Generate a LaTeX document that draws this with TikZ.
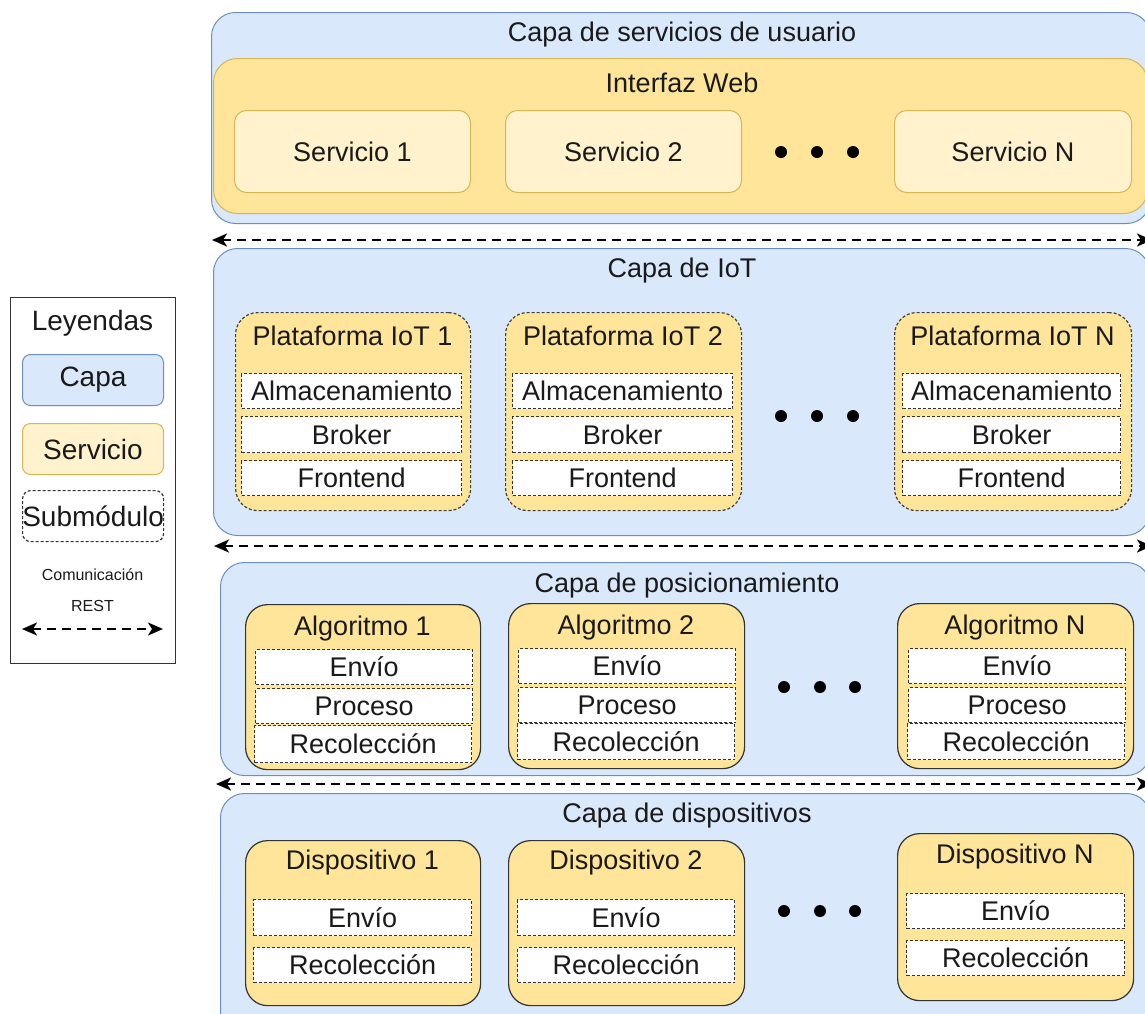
\documentclass[tikz,border=0pt]{standalone}
\usepackage{fontspec}
\setmainfont{Liberation Sans}
\usetikzlibrary{arrows.meta}
\definecolor{layerfill}{HTML}{DAE8FC}
\definecolor{layerline}{HTML}{6C8EBF}
\definecolor{svcfill}{HTML}{FFE599}
\definecolor{svclight}{HTML}{FFF2CC}
\definecolor{svcline}{HTML}{D6B656}
\definecolor{txt}{HTML}{1A1A1A}
\tikzset{
  layer/.style={draw=layerline, fill=layerfill, line width=1pt, rounded corners=24pt, anchor=north west, inner sep=0pt},
  webbox/.style={draw=svcline, fill=svcfill, line width=1pt, rounded corners=24pt, anchor=north west, inner sep=0pt},
  svcbox/.style={draw=svcline, fill=svclight, line width=1pt, rounded corners=12pt, anchor=north west, inner sep=0pt},
  platbox/.style={draw=black!75, fill=svcfill, line width=1.2pt, dash pattern=on 3pt off 2pt, rounded corners=22pt, anchor=north west, inner sep=0pt},
  algbox/.style={draw=black!80, fill=svcfill, line width=1.2pt, rounded corners=22pt, anchor=north west, inner sep=0pt},
  subbox/.style={draw=black!80, fill=white, line width=1.2pt, dash pattern=on 3pt off 2pt, anchor=north west, inner sep=0pt},
  lbl/.style={text=txt, font=\fontsize{27}{32}\selectfont, inner sep=0pt},
  small/.style={text=txt, font=\fontsize{16}{19}\selectfont, inner sep=0pt},
  rest/.style={line width=2.5pt, dash pattern=on 9pt off 6pt, {Stealth[length=15pt,width=13pt,inset=4pt]}-{Stealth[length=15pt,width=13pt,inset=4pt]}},
  dot/.style={circle, fill=black, minimum size=12pt, inner sep=0pt},
}
\begin{document}
\begin{tikzpicture}[x=1pt, y=-1pt]
\useasboundingbox (0,0) rectangle (1145,1013);
\clip (0,0) rectangle (1145,1013);

% ---------- Legend ----------
\node[draw=black!80, line width=1pt, anchor=north west, minimum width=165pt, minimum height=366pt, inner sep=0pt] (legend) at (10,297) {};
\node[lbl, font=\fontsize{28}{32}\selectfont] (legtitle) at (92.5,323) {Leyendas};
\node[layer, rounded corners=8pt, minimum width=141pt, minimum height=51pt] (legcapa) at (22,354) {};
\node[lbl, font=\fontsize{28}{32}\selectfont] at (legcapa.center) {Capa};
\node[svcbox, rounded corners=8pt, minimum width=141pt, minimum height=51pt] (legsvc) at (22,423) {};
\node[lbl, font=\fontsize{28}{32}\selectfont] at (legsvc.center) {Servicio};
\node[subbox, rounded corners=8pt, minimum width=141pt, minimum height=51pt] (legsub) at (22,490) {};
\node[lbl, font=\fontsize{28}{32}\selectfont] at (legsub.center) {Submódulo};
\node[small] (legcom) at (92.5,575) {Comunicación};
\node[small] (legrest) at (92.5,606) {REST};
\coordinate (legA) at (22,629);
\coordinate (legB) at (163,629);
\draw[rest, line width=2.3pt] (legA) -- (legB);

% ---------- Capa de servicios de usuario ----------
\node[layer, minimum width=939pt, minimum height=211pt] (L1) at (211,12) {};
\node[lbl] at (682,35) {Capa de servicios de usuario};
\node[webbox, minimum width=934pt, minimum height=155pt] (web) at (213,58) {};
\node[lbl] at (682,83) {Interfaz Web};
\node[svcbox, minimum width=236pt, minimum height=82pt] (s1) at (234,110) {};
\node[lbl] at (s1.center) {Servicio 1};
\node[svcbox, minimum width=236pt, minimum height=82pt] (s2) at (505,110) {};
\node[lbl] at (s2.center) {Servicio 2};
\node[svcbox, minimum width=237pt, minimum height=82pt] (sN) at (894,110) {};
\node[lbl] at (sN.center) {Servicio N};
\node[dot] (d1a) at (781,152) {};
\node[dot] (d1b) at (817,152) {};
\node[dot] (d1c) at (853,152) {};

% REST link between services and IoT
\coordinate (r1a) at (212,240);
\coordinate (r1b) at (1152,240);
\draw[rest] (r1a) -- (r1b);

% ---------- Capa de IoT ----------
\node[layer, minimum width=936pt, minimum height=287pt] (L2) at (213,248) {};
\node[lbl] at (682,271) {Capa de IoT};
% platform 1
\node[platbox, minimum width=235pt, minimum height=198pt] (p1) at (235,312) {};
\node[lbl] at (352.5,336) {Plataforma IoT 1};
\node[subbox, minimum width=220pt, minimum height=35pt] (p1a) at (241,373) {};
\node[lbl] at (p1a.center) {Almacenamiento};
\node[subbox, minimum width=220pt, minimum height=36pt] (p1b) at (241,416) {};
\node[lbl] at (p1b.center) {Broker};
\node[subbox, minimum width=220pt, minimum height=35pt] (p1c) at (241,460) {};
\node[lbl] at (p1c.center) {Frontend};
% platform 2
\node[platbox, minimum width=236pt, minimum height=198pt] (p2) at (505,312) {};
\node[lbl] at (623,336) {Plataforma IoT 2};
\node[subbox, minimum width=220pt, minimum height=35pt] (p2a) at (512,373) {};
\node[lbl] at (p2a.center) {Almacenamiento};
\node[subbox, minimum width=220pt, minimum height=36pt] (p2b) at (512,416) {};
\node[lbl] at (p2b.center) {Broker};
\node[subbox, minimum width=220pt, minimum height=35pt] (p2c) at (512,460) {};
\node[lbl] at (p2c.center) {Frontend};
% platform N
\node[platbox, minimum width=237pt, minimum height=198pt] (pN) at (894,312) {};
\node[lbl] at (1012.5,336) {Plataforma IoT N};
\node[subbox, minimum width=218pt, minimum height=35pt] (pNa) at (902,373) {};
\node[lbl] at (pNa.center) {Almacenamiento};
\node[subbox, minimum width=218pt, minimum height=36pt] (pNb) at (902,416) {};
\node[lbl] at (pNb.center) {Broker};
\node[subbox, minimum width=218pt, minimum height=35pt] (pNc) at (902,460) {};
\node[lbl] at (pNc.center) {Frontend};
\node[dot] (d2a) at (781,416) {};
\node[dot] (d2b) at (817,416) {};
\node[dot] (d2c) at (853,416) {};

% REST link between IoT and positioning
\coordinate (r2a) at (214,546);
\coordinate (r2b) at (1152,546);
\draw[rest] (r2a) -- (r2b);

% ---------- Capa de posicionamiento ----------
\node[layer, minimum width=930pt, minimum height=213pt] (L3) at (220,562) {};
\node[lbl] at (687,586) {Capa de posicionamiento};
% algorithm 1
\node[algbox, minimum width=235pt, minimum height=165pt] (a1) at (245,604) {};
\node[lbl] at (362.5,629) {Algoritmo 1};
\node[subbox, minimum width=217pt, minimum height=35pt] (a1a) at (255,649) {};
\node[lbl] at (a1a.center) {Envío};
\node[subbox, minimum width=217pt, minimum height=35pt] (a1b) at (255,688) {};
\node[lbl] at (a1b.center) {Proceso};
\node[subbox, minimum width=217pt, minimum height=37pt] (a1c) at (254,725) {};
\node[lbl] at (a1c.center) {Recolección};
% algorithm 2
\node[algbox, minimum width=236pt, minimum height=165pt] (a2) at (508,603) {};
\node[lbl] at (626,628) {Algoritmo 2};
\node[subbox, minimum width=217pt, minimum height=35pt] (a2a) at (518,648) {};
\node[lbl] at (a2a.center) {Envío};
\node[subbox, minimum width=217pt, minimum height=35pt] (a2b) at (518,687) {};
\node[lbl] at (a2b.center) {Proceso};
\node[subbox, minimum width=217pt, minimum height=36pt] (a2c) at (517,723) {};
\node[lbl] at (a2c.center) {Recolección};
% algorithm N
\node[algbox, minimum width=236pt, minimum height=165pt] (aN) at (897,603) {};
\node[lbl] at (1015,628) {Algoritmo N};
\node[subbox, minimum width=217pt, minimum height=35pt] (aNa) at (908,648) {};
\node[lbl] at (aNa.center) {Envío};
\node[subbox, minimum width=217pt, minimum height=35pt] (aNb) at (908,687) {};
\node[lbl] at (aNb.center) {Proceso};
\node[subbox, minimum width=217pt, minimum height=36pt] (aNc) at (907,723) {};
\node[lbl] at (aNc.center) {Recolección};
\node[dot] (d3a) at (784,687) {};
\node[dot] (d3b) at (820,687) {};
\node[dot] (d3c) at (855,687) {};

% REST link between positioning and devices
\coordinate (r3a) at (216,784);
\coordinate (r3b) at (1152,784);
\draw[rest] (r3a) -- (r3b);

% ---------- Capa de dispositivos ----------
\node[layer, minimum width=930pt, minimum height=250pt] (L4) at (220,793) {};
\node[lbl] at (687,816) {Capa de dispositivos};
% device 1
\node[algbox, minimum width=235pt, minimum height=165pt] (v1) at (245,840) {};
\node[lbl] at (362.5,863) {Dispositivo 1};
\node[subbox, minimum width=218pt, minimum height=36pt] (v1a) at (253,899) {};
\node[lbl] at (v1a.center) {Envío};
\node[subbox, minimum width=218pt, minimum height=35pt] (v1b) at (253,947) {};
\node[lbl] at (v1b.center) {Recolección};
% device 2
\node[algbox, minimum width=236pt, minimum height=165pt] (v2) at (508,840) {};
\node[lbl] at (626,863) {Dispositivo 2};
\node[subbox, minimum width=217pt, minimum height=36pt] (v2a) at (517,899) {};
\node[lbl] at (v2a.center) {Envío};
\node[subbox, minimum width=217pt, minimum height=35pt] (v2b) at (517,947) {};
\node[lbl] at (v2b.center) {Recolección};
% device N
\node[algbox, minimum width=236pt, minimum height=167pt] (vN) at (897,833) {};
\node[lbl] at (1015,857) {Dispositivo N};
\node[subbox, minimum width=218pt, minimum height=35pt] (vNa) at (906,893) {};
\node[lbl] at (vNa.center) {Envío};
\node[subbox, minimum width=218pt, minimum height=35pt] (vNb) at (906,940) {};
\node[lbl] at (vNb.center) {Recolección};
\node[dot] (d4a) at (784,911) {};
\node[dot] (d4b) at (820,911) {};
\node[dot] (d4c) at (855,911) {};
\end{tikzpicture}
\end{document}
